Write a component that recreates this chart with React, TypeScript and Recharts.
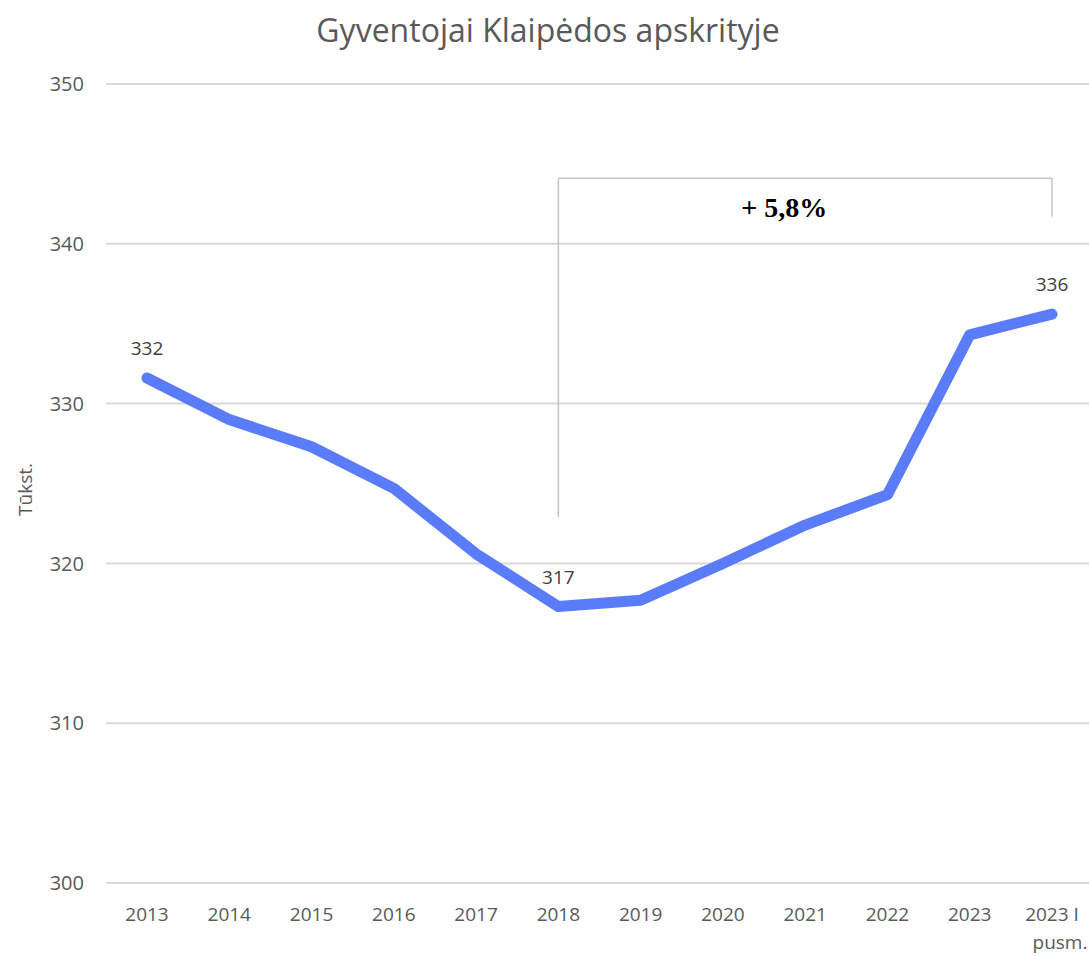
import { LineChart, Line, XAxis, YAxis, CartesianGrid, ReferenceLine, LabelList } from "recharts";

const years = ["2013", "2014", "2015", "2016", "2017", "2018", "2019", "2020", "2021", "2022", "2023", "2023 I pusm."];
const residents = [331.6, 329.0, 327.3, 324.7, 320.6, 317.3, 317.7, 320.0, 322.4, 324.3, 334.3, 335.6];
const pointLabels = ["332", "", "", "", "", "317", "", "", "", "", "", "336"];
const yTicks = [300, 310, 320, 330, 340, 350];

const data = years.map((year, i) => ({ year, value: residents[i], label: pointLabels[i] }));

const FONT = "'Open Sans', sans-serif";
const GREY = "#595959";

// last category wraps onto two lines like in the original
const YearTick = (props: any) => {
  const { x, y, payload } = props;
  const parts = payload.value === "2023 I pusm." ? ["2023 I", "pusm."] : [payload.value];
  return (
    <text x={x} y={y} textAnchor="middle" fill={GREY} fontSize={19} fontFamily={FONT}>
      {parts.map((p, i) => (
        <tspan key={i} x={i === 1 ? x + 8 : x} dy={i === 0 ? 30 : 28}>{p}</tspan>
      ))}
    </text>
  );
};

const PointLabel = (props: any) => {
  const { x, y, value } = props;
  if (!value) return null;
  return (
    <text x={x} y={y - 23} textAnchor="middle" fill="#404040" fontSize={19} fontFamily={FONT}>
      {value}
    </text>
  );
};

export default function App() {
  return (
    <div style={{ position: "absolute", left: 0, top: 0, width: 1089, height: 956, background: "#fff" }}>
      <div style={{ position: "absolute", left: 0, top: 8, width: 1096, textAlign: "center", fontFamily: FONT, fontSize: 32, color: GREY }}>
        Gyventojai Klaipėdos apskrityje
      </div>
      <LineChart width={1089} height={956} data={data} margin={{ top: 84, right: 0, bottom: 13, left: 0 }}>
        <CartesianGrid vertical={false} stroke="#d9d9d9" strokeWidth={2} />
        <XAxis
          dataKey="year"
          axisLine={false}
          tickLine={false}
          height={60}
          interval={0}
          padding={{ left: 41, right: 37 }}
          tick={<YearTick />}
        />
        <YAxis
          domain={[300, 350]}
          ticks={yTicks}
          width={106}
          axisLine={false}
          tickLine={false}
          tickMargin={16}
          tick={{ fill: GREY, fontSize: 20, fontFamily: FONT }}
          label={{
            content: (p: any) => {
              const vb = p.viewBox;
              const cx = vb.x + 25;
              const cy = vb.y + vb.height / 2 + 6;
              return (
                <text x={cx} y={cy} transform={`rotate(-90 ${cx} ${cy})`} textAnchor="middle" dominantBaseline="central" fill={GREY} fontSize={19} fontFamily={FONT}>
                  Tūkst.
                </text>
              );
            },
          }}
        />
        <ReferenceLine segment={[{ x: "2018", y: 322.9 }, { x: "2018", y: 344.1 }]} stroke="#c4c4c4" strokeWidth={1.5} />
        <ReferenceLine
          segment={[{ x: "2018", y: 344.1 }, { x: "2023 I pusm.", y: 344.1 }]}
          stroke="#c4c4c4"
          strokeWidth={1.5}
          label={{
            content: (p: any) => {
              const vb = p.viewBox;
              return (
                <text x={vb.x + vb.width / 2 - 21} y={vb.y + 39} textAnchor="middle" fill="#000" fontSize={28} fontWeight={700} fontFamily="'Liberation Serif', serif">
                  + 5,8%
                </text>
              );
            },
          }}
        />
        <ReferenceLine segment={[{ x: "2023 I pusm.", y: 341.7 }, { x: "2023 I pusm.", y: 344.1 }]} stroke="#c4c4c4" strokeWidth={1.5} />
        <Line
          type="linear"
          dataKey="value"
          stroke="#5b7cfa"
          strokeWidth={11}
          strokeLinecap="round"
          strokeLinejoin="round"
          dot={false}
          activeDot={false}
          isAnimationActive={false}
        >
          <LabelList dataKey="label" content={<PointLabel />} />
        </Line>
      </LineChart>
    </div>
  );
}
